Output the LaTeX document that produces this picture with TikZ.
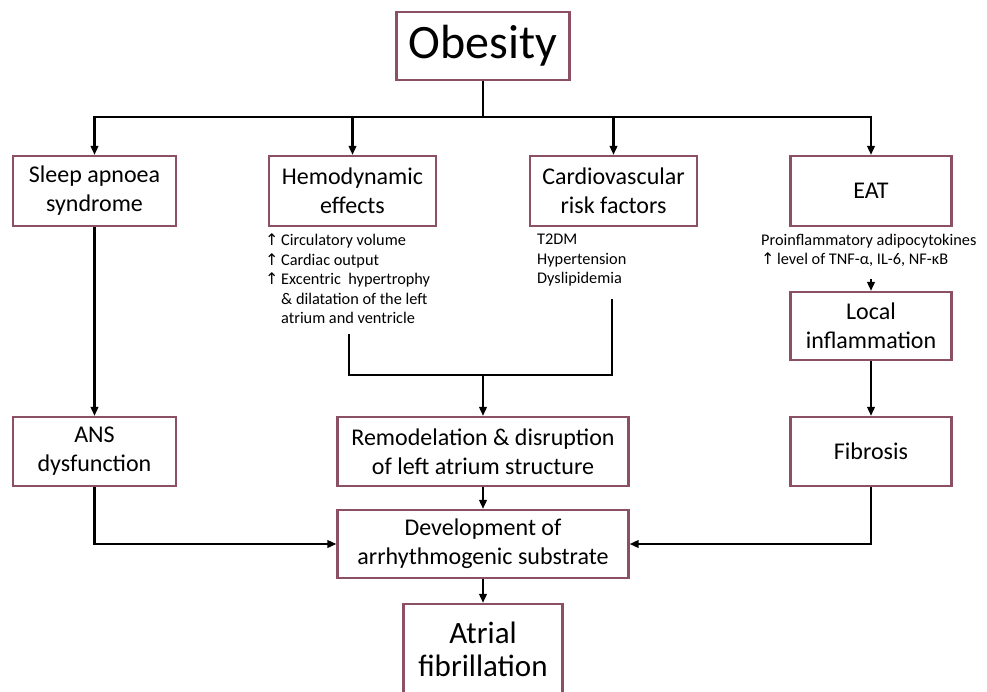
\documentclass[tikz,border=0pt]{standalone}
\usepackage{fontspec}
\setmainfont{Carlito}
\newfontfamily\symfont{DejaVu Sans}
\usetikzlibrary{arrows.meta}
\definecolor{boxcol}{RGB}{140,80,100}
\newcommand\upar{\makebox[16pt][l]{\symfont\fontsize{16}{16}\selectfont ↑}}
\tikzset{
  box/.style={draw=boxcol, line width=2.2pt, fill=white, inner sep=0pt, align=center,
    font=\fontsize{24}{29}\selectfont},
  conn/.style={line width=2.2pt, black},
  arr/.style={conn, -{Triangle[length=9pt,width=7.5pt]}},
  small/.style={inner sep=0pt, align=left, font=\fontsize{16.3}{19.4}\selectfont}
}
\begin{document}
\begin{tikzpicture}[x=1pt,y=-1pt]
\clip (0,0) rectangle (987,691);
\fill[white] (0,0) rectangle (987,691);

\node[box, minimum width=173pt, minimum height=68pt, font=\fontsize{48}{58}\selectfont] (obesity) at (483,46) {Obesity};

\node[box, minimum width=163pt, minimum height=70pt] (sleep) at (94.5,191) {Sleep apnoea\\syndrome};
\node[box, minimum width=167pt, minimum height=70pt] (hemo) at (352.5,191) {Hemodynamic\\effects};
\node[box, minimum width=167pt, minimum height=70pt] (cv) at (613.5,191) {Cardiovascular\\risk factors};
\node[box, minimum width=161pt, minimum height=70pt] (eat) at (871,191) {EAT};

\node[small, anchor=north west] (hemotxt) at (265,234) {\upar Circulatory volume\\
\upar Cardiac output\\
\upar Excentric\ \ hypertrophy\\
\hspace*{16pt}\& dilatation of the left\\
\hspace*{16pt}atrium and ventricle};

\node[small, anchor=north west] (cvtxt) at (537,234) {T2DM\\Hypertension\\Dyslipidemia};

\node[small, anchor=north west] (eattxt) at (761,234) {Proinflammatory adipocytokines\\
\upar level of TNF-α, IL-6, NF-κB};

\node[box, minimum width=161pt, minimum height=68pt] (local) at (871,326) {Local\\inflammation};
\node[box, minimum width=161pt, minimum height=69pt] (fib) at (871,451.5) {Fibrosis};
\node[box, minimum width=163pt, minimum height=69pt] (ans) at (94.5,451.5) {ANS\\dysfunction};
\node[box, minimum width=291pt, minimum height=69pt] (remod) at (483,451.5) {Remodelation \& disruption\\of left atrium structure};
\node[box, minimum width=291pt, minimum height=68pt] (dev) at (483,544) {Development of\\arrhythmogenic substrate};
\node[box, minimum width=159pt, minimum height=90pt, font=\fontsize{31}{33}\selectfont] (af) at (483,649) {Atrial\\fibrillation};

% connectors
\coordinate (j1) at (483,117);
\draw[conn] (obesity.south) -- (j1);
\draw[arr] (j1) -| (sleep.north);
\draw[arr] (j1) -| (hemo.north);
\draw[arr] (j1) -| (cv.north);
\draw[arr] (j1) -| (eat.north);

\draw[arr] (sleep.south) -- (ans.north);
\draw[arr] (ans.south) |- (dev.west);
\draw[arr] (fib.south) |- (dev.east);

\coordinate (h1) at (349,334);
\coordinate (c1) at (612,299);
\coordinate (j2) at (483,375);
\draw[conn] (h1) |- (j2) -| (c1);
\draw[arr] (j2) -- (remod.north);
\draw[arr] (remod.south) -- (dev.north);
\draw[arr] (dev.south) -- (af.north);

\coordinate (e1) at (871,279);
\draw[arr] (e1) -- (local.north);
\draw[arr] (local.south) -- (fib.north);
\end{tikzpicture}
\end{document}
